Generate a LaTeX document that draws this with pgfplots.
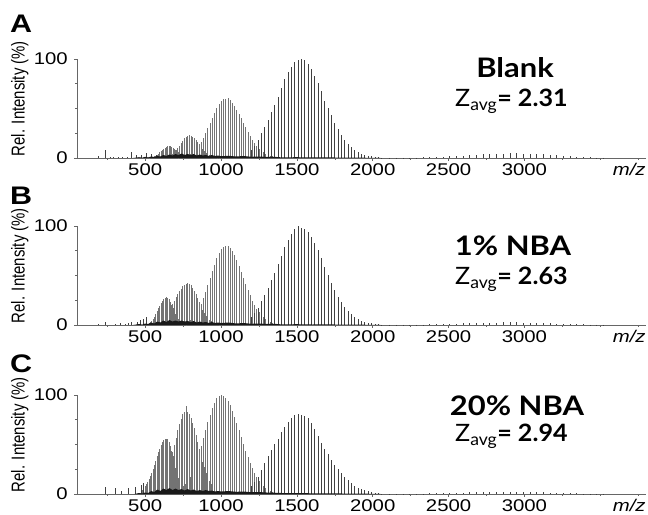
\documentclass[border=0pt]{standalone}
\usepackage{pgfplots}
\pgfplotsset{compat=1.18}
\usepackage{pgfplotstable}
\usepackage{fontspec}
\setmainfont{Liberation Sans}[FakeStretch=1.2]
\newfontfamily\plainsans{Liberation Sans}
\newfontfamily\headfont{Lato}[FakeStretch=1.15]
\newfontfamily\zfont{Lato}[FakeStretch=1.05]

% Peak heights (%) per charge state; columns A, B, C = Blank, 1% NBA, 20% NBA
\pgfplotstableread{
mz A B C
1200 8 8 8
1222 12 12 12
1244 18 17 17
1266 25 24 24
1288 31 30 31
1310 38 37 38
1332 46 45 44
1354 54 53 50
1376 62 62 56
1398 71 70 63
1420 80 79 68
1442 87 86 73
1464 92 92 77
1486 97 97 80
1508 99 100 81
1530 100 98 80
1552 99 97 79
1574 95 94 77
1596 90 89 72
1618 83 83 66
1640 76 76 59
1662 68 68 52
1684 58 59 45
1706 50 50 40
1728 43 42 34
1750 35 35 29
1772 29 28 25
1794 23 23 21
1816 18 18 17
1838 14 14 14
1860 11 11 11
1882 8 8 8.5
1904 6 6 6.5
1926 4.5 4.5 5
1948 3.2 3.2 3.6
1970 2.3 2.3 2.6
1992 1.6 1.6 1.8
2014 1.0 1.0 1.2
2036 0.6 0.6 0.8
2058 0.4 0.4 0.5
}\zTwo

\pgfplotstableread{
mz A B C
721.3 0.5 0.8 4.0
736.0 0.8 1.2 5.5
750.7 1.2 1.7 7.6
765.4 1.8 2.4 10.2
780.1 2.6 3.4 13.4
794.8 3.8 5.0 17.4
809.5 5.3 7.0 22.1
824.2 7.2 9.6 27.6
838.9 9.7 13.0 33.9
853.6 12.7 17.0 40.9
868.3 16.2 21.6 48.5
883.0 20.4 27.2 56.5
897.7 25.0 33.4 64.6
912.4 30.0 40.0 72.5
927.1 35.3 47.1 80.0
941.8 40.7 54.2 86.7
956.5 45.8 61.0 92.3
971.2 50.5 67.3 96.5
985.9 54.4 72.6 99.1
1000.6 57.5 76.6 100
1015.3 59.4 79.1 99.3
1030.0 60 80 97.3
1044.7 60.5 79.4 94.0
1059.4 58.1 77.4 89.5
1074.1 55.7 74.3 84.1
1088.8 52.6 70.2 78.0
1103.5 48.9 65.2 71.3
1118.2 44.7 59.6 64.2
1132.9 40.2 53.6 57.1
1147.6 35.5 47.4 50.1
1162.3 31.0 41.3 43.3
1177.0 26.5 35.4 36.9
1191.7 22.3 29.8 31.1
1206.4 18.5 24.6 25.8
1221.1 15.1 20.2 21.1
1235.8 12.1 16.2 17.0
1250.5 9.5 12.7 13.6
1265.2 7.4 9.8 10.6
1279.9 5.7 7.6 8.2
1294.6 4.3 5.7 6.3
1309.3 3.1 4.2 4.7
1324.0 2.3 3.0 3.5
1338.7 1.6 2.2 2.5
}\zThree

\pgfplotstableread{
mz A B C
636 0.9 10.2 17.9
647 1.3 12.6 22.9
658 2.0 15.3 28.6
669 3.0 18.2 35.1
680 4.3 21.3 42.2
691 5.9 24.6 49.6
702 7.8 27.9 57.0
713 10.1 31.1 64.2
724 12.6 34.1 70.7
735 15.1 36.7 76.2
746 17.6 38.9 80.5
757 19.8 40.6 83.1
768 21.5 41.6 89
779 22.6 42 83.2
790 23 41.5 80.9
801 22.7 40.0 77.2
812 21.7 37.6 72.2
823 20.2 34.5 66.3
834 18.3 30.9 59.8
845 16.1 26.9 52.9
856 13.7 22.9 45.9
867 11.4 19.1 39.0
878 9.2 15.5 32.6
889 7.2 12.2 26.8
900 5.5 9.4 21.5
911 4.1 7.1 17.0
922 2.9 5.2 13.2
933 2.0 3.7 10.0
944 1.4 2.6 7.5
955 0.9 1.8 5.5
966 0.6 1.2 3.9
977 0.4 0.8 2.7
988 0.3 0.5 1.9
}\zFour

\pgfplotstableread{
mz A B C
481.6 0 0 4.5
490.4 0 0 5.9
499.2 0 0 7.6
508.0 0 0.8 9.7
516.8 0 1.3 12.1
525.6 0.3 2.0 14.9
534.4 0.6 3.0 18.1
543.2 0.9 4.4 21.6
552.0 1.3 6.2 25.5
560.8 1.8 8.4 29.6
569.6 2.5 11.0 33.8
578.4 3.4 13.8 38.0
587.2 4.5 16.7 42.0
596.0 5.6 19.5 45.9
604.8 6.9 22.1 49.3
613.6 8.2 24.4 52.2
622.4 9.4 26.2 54.3
631.2 10.4 27.5 55.6
640.0 11.3 28 56
648.8 11.8 27.5 55.1
657.6 12 25.9 52.6
666.4 11.8 23.6 48.9
675.2 11.3 20.6 43.7
684.0 10.4 17.4 38.1
692.8 9.4 14.1 32.1
701.6 8.2 11.0 26.2
710.4 6.9 8.2 20.8
719.2 5.6 5.9 16.0
728.0 4.5 4.2 11.9
736.8 3.4 2.8 8.6
745.6 2.5 1.8 6.0
754.4 1.8 1.1 4.1
763.2 1.3 0.6 2.7
772.0 0.9 0.3 1.8
780.8 0.6 0 1.2
}\zFive

\pgfplotstableread{
mz A B C
2112 0.3 0.2 0.2
2156 0.3 0.2 0.2
2200 0.4 0.3 0.3
2244 0.4 0.3 0.3
2288 0.5 0.4 0.4
2332 0.6 0.5 0.5
2376 0.8 0.6 0.6
2420 1.0 0.7 0.7
2464 1.3 0.9 0.8
2508 1.7 1.1 1.0
2552 2.1 1.4 1.2
2596 2.5 1.6 1.4
2640 2.9 1.8 1.6
2684 3.3 2.0 1.8
2728 3.7 2.2 1.9
2772 4.0 2.4 2.0
2816 4.3 2.5 2.1
2860 4.5 2.6 2.2
2904 4.6 2.6 2.2
2948 4.6 2.6 2.2
2992 4.5 2.5 2.1
3036 4.3 2.4 2.0
3080 4.0 2.2 1.9
3124 3.6 2.0 1.7
3168 3.2 1.8 1.5
3212 2.7 1.5 1.3
3256 2.2 1.3 1.1
3300 1.8 1.0 0.9
3344 1.4 0.8 0.7
3388 1.0 0.6 0.5
3432 0.7 0.4 0.4
3476 0.5 0.3 0.3
3520 0.3 0.2 0.2
}\zOne

% isolated low-mass peaks
\pgfplotstableread{
mz y
193 2
235 8
268 0.7
290 0.6
320 0.8
350 0.7
380 1
411 6
444 3.5
477 3
505 5
543 4
576 3
}\lowA
\pgfplotstableread{
mz y
193 1
235 3
301 1
334 2
367 1.5
390 2
411 3
446 3
466 5
488 6
510 8
}\lowB
\pgfplotstableread{
mz y
235 7
301 6
345 3
389 6
433 7
477 9
488 11
}\lowC

\pgfplotsset{
  spec/.style={
    scale only axis, width=568.9bp, height=99bp,
    xmin=50, xmax=3800, ymin=0, ymax=100,
    axis x line=bottom, axis y line=left,
    axis line style={-, black!60, line width=0.6bp},
    xtick={500,1000,1500,2000,2500,3000},
    minor xtick={250,750,1250,1750,2250,2750,3250,3500,3750},
    ytick={0,100}, minor ytick={25,50,75},
    tick align=outside,
    major tick length=3bp, minor tick length=2bp,
    tick style={black!60, line width=0.6bp},
    /pgf/number format/assume math mode=true,
    /pgf/number format/1000 sep={},
    ticklabel style={font=\fontsize{17}{17}\selectfont},
    yticklabel style={inner sep=0pt, xshift=-6bp},
    xticklabel style={inner sep=0pt, yshift=-2.5bp},
    xlabel={\itshape m/z},
    xlabel style={at={(axis description cs:1,0)}, anchor=north east,
      inner sep=0pt, yshift=-5bp, font=\fontsize{17}{17}\selectfont},
    ylabel={\scalebox{1}[1.25]{\plainsans\fontsize{15}{15}\selectfont Rel. Intensity (\%)}},
    ylabel style={at={(axis description cs:-0.1002,0.6)}, anchor=center},
    clip=false,
  },
  stick/.style={ycomb, no markers, draw=black!75, line width=0.7bp},
  stickm/.style={ycomb, no markers, draw=black!55, line width=0.6bp},
  base/.style={fill=black!90, draw=none},
}

\begin{document}
\begin{tikzpicture}
\useasboundingbox (0,0) rectangle (648bp,515bp);

% Panel A: Blank
\begin{axis}[spec, at={(76.9bp,357bp)}]
\addplot[stick] table[x=mz,y=A]{\zOne};
\addplot[stickm] table[x=mz,y=A]{\zFive};
\addplot[stickm] table[x=mz,y=A]{\zFour};
\addplot[stickm] table[x=mz,y=A]{\zThree};
\addplot[stick] table[x=mz,y=A]{\zTwo};
\addplot[stick] table[x=mz,y=y]{\lowA};
\addplot[base] coordinates {(420,0) (460,0.8) (480,0.3) (500,1.2) (520,0.6) (540,1.5) (560,1) (580,2) (600,1.5) (620,3) (640,2) (660,3.5) (680,2.5) (700,4) (720,3) (740,4.5) (760,3) (780,4) (800,3) (820,4) (840,2.5) (860,3.5) (880,2.5) (900,3) (920,2) (940,3) (960,2) (980,2.5) (1000,1.8) (1050,2.2) (1100,1.5) (1150,2) (1200,1.2) (1250,1.5) (1300,1) (1350,1.2) (1400,0.6) (1500,0.8) (1600,0.5) (1700,0.6) (1800,0.4) (1900,0.3) (2000,0.2) (2050,0)} \closedcycle;
\end{axis}

% Panel B: 1% NBA
\begin{axis}[spec, at={(76.9bp,190bp)}]
\addplot[stick] table[x=mz,y=B]{\zOne};
\addplot[stickm] table[x=mz,y=B]{\zFive};
\addplot[stickm] table[x=mz,y=B]{\zFour};
\addplot[stickm] table[x=mz,y=B]{\zThree};
\addplot[stick] table[x=mz,y=B]{\zTwo};
\addplot[stick] table[x=mz,y=y]{\lowB};
\addplot[base] coordinates {(420,0) (460,1) (480,0.4) (500,1.5) (520,1) (540,2.5) (560,1.5) (580,3.5) (600,2.5) (620,4.5) (640,3) (660,5) (680,3.5) (700,4.5) (720,3.5) (740,4.5) (760,3.5) (780,4) (800,3) (820,4) (840,2.5) (860,3.5) (880,2.5) (900,3) (920,2) (940,3) (960,2) (980,2.5) (1000,2) (1050,2.5) (1100,1.5) (1150,2) (1200,1.2) (1250,1.5) (1300,1) (1350,1.2) (1400,0.6) (1500,0.8) (1600,0.5) (1700,0.6) (1800,0.4) (1900,0.3) (2000,0.2) (2050,0)} \closedcycle;
\end{axis}

% Panel C: 20% NBA
\begin{axis}[spec, at={(76.9bp,21bp)}]
\addplot[stick] table[x=mz,y=C]{\zOne};
\addplot[stickm] table[x=mz,y=C]{\zFive};
\addplot[stickm] table[x=mz,y=C]{\zFour};
\addplot[stickm] table[x=mz,y=C]{\zThree};
\addplot[stick] table[x=mz,y=C]{\zTwo};
\addplot[stick] table[x=mz,y=y]{\lowC};
\addplot[base] coordinates {(430,0) (460,1) (480,0.5) (500,1.5) (520,1) (540,3) (560,2) (580,4.5) (600,3) (620,5.5) (640,4) (660,6) (680,4) (700,5.5) (720,4) (740,5) (760,3.5) (780,5) (800,3.5) (820,4.5) (840,3) (860,4) (880,3) (900,4) (920,3) (940,3.5) (960,2.5) (980,3) (1000,2.5) (1050,3) (1100,2.2) (1150,2.5) (1200,1.8) (1250,2) (1300,1.5) (1350,1.3) (1400,1) (1500,1) (1600,0.7) (1700,0.7) (1800,0.5) (1900,0.4) (2000,0.2) (2050,0)} \closedcycle;
\end{axis}

% panel letters
\begin{scope}[every node/.style={inner sep=0pt, font=\bfseries\fontsize{25.5}{26}\selectfont}]
\node[anchor=base west] at (10bp,482bp) {A};
\node[anchor=base west] at (10bp,310bp) {B};
\node[anchor=base west] at (10bp,142bp) {C};
\end{scope}

% sample names and average charge states
\begin{scope}[every node/.style={inner sep=0pt}]
\node[anchor=base, font=\headfont\bfseries\fontsize{27}{27}\selectfont] at (515bp,437bp) {Blank};
\node[anchor=base west, font=\zfont\fontsize{24}{24}\selectfont] at (455bp,408bp) {Z\textsubscript{avg}\textbf{= 2.31}};
\node[anchor=base, font=\headfont\bfseries\fontsize{27}{27}\selectfont] at (513bp,259bp) {1\% NBA};
\node[anchor=base west, font=\zfont\fontsize{24}{24}\selectfont] at (455bp,230bp) {Z\textsubscript{avg}\textbf{= 2.63}};
\node[anchor=base, font=\headfont\bfseries\fontsize{27}{27}\selectfont] at (517bp,99bp) {20\% NBA};
\node[anchor=base west, font=\zfont\fontsize{24}{24}\selectfont] at (455bp,73bp) {Z\textsubscript{avg}\textbf{= 2.94}};
\end{scope}
\end{tikzpicture}
\end{document}
